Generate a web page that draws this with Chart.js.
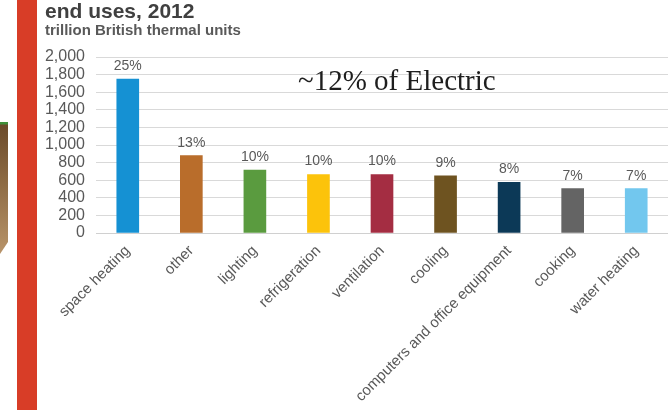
<!DOCTYPE html>
<html>
<head>
<meta charset="utf-8">
<script src="https://cdn.jsdelivr.net/npm/chart.js@4/dist/chart.umd.min.js"></script>
<style>
  html, body { margin: 0; padding: 0; background: #fff; }
  body { width: 668px; height: 410px; position: relative; overflow: hidden; font-family: "Liberation Sans", Arial, sans-serif; }
  #photo {
    position: absolute; left: 0; top: 122px; width: 8px; height: 132px;
    background: linear-gradient(to bottom, #3f8f3a 0, #3f8f3a 2px, #6b4a2b 3px, #8d6a43 45%, #b8946a 100%);
    clip-path: polygon(0 0, 100% 0, 100% 91%, 0 100%);
  }
  #band { position: absolute; left: 17px; top: 0; width: 20px; height: 410px; background: #d83d27; }
  #title { position: absolute; left: 45px; top: 0px; font-size: 21px; line-height: 21px; font-weight: bold; color: #404040; white-space: nowrap; }
  #subtitle { position: absolute; left: 45px; top: 22px; font-size: 15px; line-height: 15px; font-weight: bold; color: #595959; white-space: nowrap; }
  #note { position: absolute; left: 298px; top: 66px; font-family: "Liberation Serif", "Times New Roman", serif; font-size: 29px; line-height: 28px; color: #1e1e1e; white-space: nowrap; z-index: 2; }
  #chart { position: absolute; left: 0; top: 0; }
</style>
</head>
<body>
<div id="photo"></div>
<div id="band"></div>
<canvas id="chart" width="668" height="410"></canvas>
<div id="title">end uses, 2012</div>
<div id="subtitle">trillion British thermal units</div>
<div id="note">~12% of Electric</div>
<script>
// Commercial building energy consumption by end use, 2012 (trillion Btu)
const categories = ['space heating', 'other', 'lighting', 'refrigeration', 'ventilation',
                    'cooling', 'computers and office equipment', 'cooking', 'water heating'];
const consumption = [1750, 880, 715, 665, 665, 650, 575, 505, 505];
const shares = ['25%', '13%', '10%', '10%', '10%', '9%', '8%', '7%', '7%'];
const barColors = ['#1591d3', '#b96d2b', '#5a9b3f', '#fcc30b', '#a42d42',
                   '#6e5320', '#0c3957', '#646464', '#72c7ee'];
const yTicks = [0, 200, 400, 600, 800, 1000, 1200, 1400, 1600, 1800, 2000];

const FONT = '"Liberation Sans", Arial, sans-serif';

// Share labels written above each bar
const shareLabels = {
  id: 'shareLabels',
  afterDatasetsDraw(chart) {
    const ctx = chart.ctx;
    const meta = chart.getDatasetMeta(0);
    ctx.save();
    ctx.font = '14px ' + FONT;
    ctx.fillStyle = '#595959';
    ctx.textAlign = 'center';
    ctx.textBaseline = 'alphabetic';
    meta.data.forEach((bar, i) => {
      ctx.fillText(shares[i], bar.x, bar.y - 9);
    });
    ctx.restore();
  }
};

new Chart(document.getElementById('chart'), {
  type: 'bar',
  data: {
    labels: categories,
    datasets: [{
      data: consumption,
      backgroundColor: barColors,
      borderWidth: 0,
      barThickness: 22
    }]
  },
  options: {
    responsive: false,
    devicePixelRatio: 1,
    animation: false,
    layout: { padding: { top: 57, left: 0, right: 0, bottom: 0 } },
    plugins: { legend: { display: false }, tooltip: { enabled: false } },
    scales: {
      x: {
        grid: { display: false, drawTicks: false },
        border: { display: true, color: '#d0d0d0' },
        ticks: {
          color: '#595959',
          font: { family: FONT, size: 15 },
          minRotation: 45,
          maxRotation: 45,
          autoSkip: false,
          padding: 9
        },
        afterFit(scale) { scale.height = 177; }
      },
      y: {
        min: 0,
        max: 2000,
        afterBuildTicks(scale) { scale.ticks = yTicks.map(v => ({ value: v })); },
        grid: { color: '#d9d9d9', drawTicks: false },
        border: { display: false },
        ticks: {
          color: '#595959',
          font: { family: FONT, size: 16 },
          padding: 11,
          autoSkip: false,
          callback: v => v.toLocaleString('en-US')
        },
        afterFit(scale) { scale.width = 96; }
      }
    }
  },
  plugins: [shareLabels]
});
</script>
</body>
</html>
